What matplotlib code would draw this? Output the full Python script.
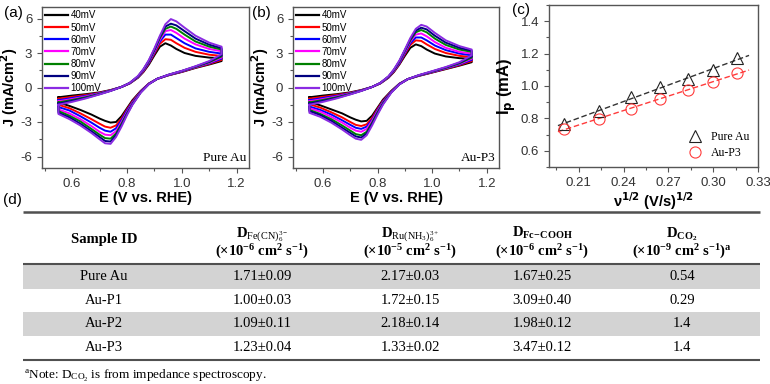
import numpy as np
import matplotlib
matplotlib.use('Agg')
import matplotlib.pyplot as plt
from matplotlib.ticker import MultipleLocator, FormatStrFormatter
from matplotlib.patches import Rectangle

plt.rcParams.update({
    'font.family': ['Liberation Sans', 'DejaVu Sans'],
    'axes.unicode_minus': False,
    'mathtext.fontset': 'custom',
    'mathtext.rm': 'Liberation Serif',
    'mathtext.bf': 'Liberation Serif:bold',
    'mathtext.it': 'Liberation Serif:italic',
})

# ---------------- data ----------------
SCAN_LABELS = ['40mV', '50mV', '60mV', '70mV', '80mV', '90mV', '100mV']

E_FWD = [0.55, 0.60, 0.65, 0.70, 0.74, 0.78, 0.81, 0.84, 0.86, 0.88, 0.90, 0.92, 0.94, 0.96, 0.98, 1.01, 1.05, 1.10, 1.145]
E_REV = [1.145, 1.10, 1.05, 1.00, 0.95, 0.91, 0.88, 0.85, 0.82, 0.80, 0.78, 0.76, 0.74, 0.72, 0.70, 0.67, 0.63, 0.59, 0.55]

J_A_FWD = [
    [-0.85, -0.70, -0.58, -0.42, -0.22, 0.05, 0.35, 0.85, 1.35, 2.00, 2.80, 3.55, 3.85, 3.65, 3.35, 3.00, 2.75, 2.60, 2.55],
    [-0.98, -0.81, -0.65, -0.46, -0.24, 0.05, 0.36, 0.88, 1.40, 2.10, 2.95, 3.80, 4.20, 4.15, 3.85, 3.45, 3.10, 2.85, 2.75],
    [-1.10, -0.91, -0.72, -0.49, -0.26, 0.05, 0.37, 0.90, 1.45, 2.15, 3.05, 4.00, 4.60, 4.60, 4.30, 3.85, 3.40, 3.10, 2.95],
    [-1.20, -1.00, -0.78, -0.52, -0.27, 0.05, 0.38, 0.93, 1.50, 2.25, 3.15, 4.15, 4.90, 5.00, 4.75, 4.25, 3.75, 3.35, 3.15],
    [-1.30, -1.08, -0.84, -0.55, -0.28, 0.05, 0.39, 0.95, 1.55, 2.30, 3.25, 4.30, 5.10, 5.30, 5.10, 4.60, 4.00, 3.55, 3.30],
    [-1.40, -1.16, -0.90, -0.58, -0.29, 0.05, 0.40, 0.97, 1.58, 2.35, 3.32, 4.40, 5.30, 5.55, 5.40, 4.90, 4.25, 3.72, 3.42],
    [-1.50, -1.25, -0.95, -0.60, -0.30, 0.05, 0.40, 1.00, 1.60, 2.40, 3.40, 4.50, 5.50, 5.95, 5.75, 5.20, 4.50, 3.90, 3.55],
]
J_A_REV = [
    [2.30, 2.00, 1.70, 1.35, 1.05, 0.75, 0.35, -0.30, -1.10, -1.80, -2.50, -3.00, -3.05, -2.90, -2.70, -2.35, -1.95, -1.60, -1.30],
    [2.40, 2.05, 1.73, 1.37, 1.06, 0.75, 0.34, -0.33, -1.20, -1.90, -2.70, -3.30, -3.50, -3.40, -3.15, -2.75, -2.25, -1.80, -1.50],
    [2.50, 2.10, 1.76, 1.39, 1.07, 0.75, 0.33, -0.36, -1.28, -2.00, -2.85, -3.55, -3.85, -3.75, -3.50, -3.05, -2.50, -2.00, -1.70],
    [2.60, 2.15, 1.78, 1.41, 1.08, 0.75, 0.32, -0.39, -1.35, -2.15, -3.00, -3.80, -4.15, -4.10, -3.85, -3.35, -2.75, -2.25, -1.90],
    [2.70, 2.20, 1.80, 1.43, 1.09, 0.75, 0.31, -0.41, -1.42, -2.25, -3.15, -4.00, -4.45, -4.40, -4.10, -3.60, -2.95, -2.45, -2.05],
    [2.80, 2.25, 1.83, 1.44, 1.10, 0.75, 0.30, -0.43, -1.46, -2.32, -3.28, -4.15, -4.70, -4.65, -4.30, -3.80, -3.15, -2.60, -2.20],
    [2.90, 2.30, 1.85, 1.45, 1.10, 0.75, 0.30, -0.45, -1.50, -2.40, -3.40, -4.30, -4.90, -4.85, -4.50, -3.95, -3.30, -2.75, -2.30],
]
J_B_FWD = [
    [-0.85, -0.70, -0.58, -0.42, -0.22, 0.05, 0.35, 0.85, 1.35, 2.00, 2.75, 3.45, 3.75, 3.60, 3.30, 2.95, 2.70, 2.55, 2.50],
    [-0.98, -0.81, -0.65, -0.46, -0.24, 0.05, 0.36, 0.88, 1.40, 2.05, 2.90, 3.70, 4.10, 4.05, 3.75, 3.35, 3.00, 2.75, 2.65],
    [-1.10, -0.91, -0.72, -0.49, -0.26, 0.05, 0.37, 0.90, 1.45, 2.10, 3.00, 3.85, 4.35, 4.35, 4.10, 3.65, 3.25, 2.95, 2.80],
    [-1.20, -1.00, -0.78, -0.52, -0.27, 0.05, 0.38, 0.92, 1.48, 2.20, 3.10, 4.00, 4.60, 4.70, 4.45, 3.95, 3.45, 3.10, 2.95],
    [-1.30, -1.08, -0.84, -0.55, -0.28, 0.05, 0.39, 0.94, 1.52, 2.25, 3.20, 4.10, 4.80, 5.00, 4.80, 4.25, 3.70, 3.30, 3.10],
    [-1.40, -1.16, -0.90, -0.58, -0.29, 0.05, 0.40, 0.96, 1.55, 2.30, 3.25, 4.20, 4.95, 5.20, 5.05, 4.50, 3.90, 3.45, 3.20],
    [-1.50, -1.25, -0.95, -0.60, -0.30, 0.05, 0.40, 0.98, 1.58, 2.35, 3.30, 4.30, 5.10, 5.45, 5.30, 4.75, 4.10, 3.60, 3.30],
]
J_B_REV = [
    [2.20, 1.90, 1.60, 1.30, 1.00, 0.72, 0.33, -0.30, -1.05, -1.75, -2.45, -2.90, -2.95, -2.80, -2.60, -2.25, -1.90, -1.55, -1.25],
    [2.30, 1.95, 1.63, 1.32, 1.02, 0.72, 0.32, -0.33, -1.15, -1.85, -2.65, -3.20, -3.35, -3.25, -3.00, -2.60, -2.15, -1.75, -1.45],
    [2.40, 2.00, 1.66, 1.34, 1.03, 0.72, 0.31, -0.36, -1.22, -1.95, -2.80, -3.40, -3.60, -3.50, -3.25, -2.85, -2.35, -1.95, -1.65],
    [2.50, 2.05, 1.69, 1.36, 1.04, 0.72, 0.30, -0.39, -1.30, -2.05, -2.90, -3.60, -3.85, -3.75, -3.50, -3.05, -2.55, -2.10, -1.80],
    [2.60, 2.10, 1.72, 1.38, 1.05, 0.72, 0.29, -0.41, -1.36, -2.15, -3.05, -3.85, -4.15, -4.05, -3.75, -3.30, -2.75, -2.30, -1.95],
    [2.70, 2.15, 1.75, 1.40, 1.06, 0.72, 0.28, -0.43, -1.42, -2.25, -3.15, -4.00, -4.35, -4.25, -3.95, -3.50, -2.90, -2.40, -2.05],
    [2.80, 2.20, 1.78, 1.42, 1.07, 0.72, 0.27, -0.45, -1.48, -2.35, -3.30, -4.15, -4.55, -4.45, -4.15, -3.65, -3.05, -2.55, -2.20],
]

SQRT_V = [0.2000, 0.2236, 0.2449, 0.2646, 0.2828, 0.3000, 0.3162]
IP_PURE_AU = [0.766, 0.848, 0.930, 0.991, 1.042, 1.098, 1.171]
IP_AU_P3 = [0.736, 0.797, 0.858, 0.920, 0.977, 1.026, 1.079]

SAMPLE_IDS = ['Pure Au', 'Au-P1', 'Au-P2', 'Au-P3']
D_FE = ['1.71±0.09', '1.00±0.03', '1.09±0.11', '1.23±0.04']
D_RU = ['2.17±0.03', '1.72±0.15', '2.18±0.14', '1.33±0.02']
D_FC = ['1.67±0.25', '3.09±0.40', '1.98±0.12', '3.47±0.12']
D_CO2 = ['0.54', '0.29', '1.4', '1.4']

# ---------------- styling ----------------
COLORS = ['black', 'red', 'blue', 'magenta', 'green', 'navy', '#8a2be2']
SPINE = '#555555'
TICKC = '#333333'

W, H = 770, 384
fig = plt.figure(figsize=(W / 100, H / 100), dpi=100)


def px_axes(l, t, r, b):
    return fig.add_axes([l / W, 1 - b / H, (r - l) / W, (b - t) / H])


def style_axes(ax):
    for s in ['top', 'right', 'left', 'bottom']:
        ax.spines[s].set_color(SPINE)
        ax.spines[s].set_linewidth(1.0)
    ax.tick_params(which='both', direction='out', top=False, right=False,
                   colors=SPINE, labelcolor=TICKC, labelsize=9.5)
    ax.tick_params(which='major', length=3.5, width=0.8)
    ax.tick_params(which='minor', length=2, width=0.8)


def cv_panel(ax, jf, jr, tag):
    for lab, col, f, r in zip(SCAN_LABELS, COLORS, jf, jr):
        ax.plot(E_FWD + E_REV + [E_FWD[0]], f + r + [f[0]], color=col, lw=1.4, label=lab)
    ax.set_xlim(0.49, 1.245)
    ax.set_ylim(-7, 7)
    ax.xaxis.set_major_locator(MultipleLocator(0.2))
    ax.xaxis.set_minor_locator(MultipleLocator(0.1))
    ax.xaxis.set_major_formatter(FormatStrFormatter('%.1f'))
    ax.yaxis.set_major_locator(MultipleLocator(3))
    ax.yaxis.set_minor_locator(MultipleLocator(1.5))
    style_axes(ax)
    ax.set_xlabel('E (V vs. RHE)', fontsize=10.5, fontweight='bold', labelpad=1)
    ax.set_ylabel('J (mA/cm$^{\\mathbf{2}}$)', fontsize=10.5, fontweight='bold',
                  math_fontfamily='dejavusans', labelpad=0)
    leg = ax.legend(loc='upper left', fontsize=7, frameon=False, handlelength=2.3,
                    handletextpad=0.3, labelspacing=0.22, borderaxespad=0.15, borderpad=0.2)
    for ln in leg.get_lines():
        ln.set_linewidth(1.6)
    ax.text(0.985, 0.025, tag, transform=ax.transAxes, ha='right', va='bottom',
            fontfamily='Liberation Serif', fontsize=9.5)


ax_a = px_axes(42, 7, 249, 168)
cv_panel(ax_a, J_A_FWD, J_A_REV, 'Pure Au')
ax_b = px_axes(293, 7, 499, 168)
cv_panel(ax_b, J_B_FWD, J_B_REV, 'Au-P3')

# panel c
ax_c = px_axes(549, 5, 758, 167)
xx = np.array([0.196, 0.324])
pa = np.polyfit(SQRT_V, IP_PURE_AU, 1)
pb = np.polyfit(SQRT_V, IP_AU_P3, 1)
ax_c.plot(xx, np.polyval(pa, xx), '--', color='#333333', lw=1.0, dashes=(4, 2))
ax_c.plot(xx, np.polyval(pb, xx), '--', color='#ff3b3b', lw=1.0, dashes=(4, 2))
ax_c.plot(SQRT_V, IP_PURE_AU, '^', mfc='none', mec='#222222', ms=9, mew=0.8, label='Pure Au')
ax_c.plot(SQRT_V, IP_AU_P3, 'o', mfc='none', mec='#ff3b3b', ms=8, mew=0.8, label='Au-P3')
ax_c.set_xlim(0.19, 0.33)
ax_c.set_ylim(0.5, 1.5)
ax_c.xaxis.set_major_locator(MultipleLocator(0.03))
ax_c.xaxis.set_minor_locator(MultipleLocator(0.015))
ax_c.xaxis.set_major_formatter(FormatStrFormatter('%.2f'))
ax_c.yaxis.set_major_locator(MultipleLocator(0.2))
ax_c.yaxis.set_minor_locator(MultipleLocator(0.1))
ax_c.yaxis.set_major_formatter(FormatStrFormatter('%.1f'))
style_axes(ax_c)
ax_c.set_xlabel('ν$^{\\mathbf{1/2}}$ (V/s)$^{\\mathbf{1/2}}$', fontsize=10.5, fontweight='bold',
                math_fontfamily='dejavusans', labelpad=1)
ax_c.set_ylabel('I$_{\\mathbf{p}}$ (mA)', fontsize=12, fontweight='bold',
                math_fontfamily='dejavusans', labelpad=2)
ax_c.legend(loc='lower right', frameon=False, prop={'family': 'Liberation Serif', 'size': 8.5},
            handletextpad=0.4, labelspacing=0.3, borderaxespad=0.3)

# panel labels
for x, y, s in [(4, 13, '(a)'), (252, 13, '(b)'), (512, 10, '(c)'), (3, 200, '(d)')]:
    fig.text(x / W, 1 - y / H, s, fontsize=11, ha='left', va='center')

# ---------------- table ----------------
tx = fig.add_axes([0, 0, 1, 1], zorder=-1)
tx.set_xlim(0, W)
tx.set_ylim(H, 0)
tx.axis('off')
TL, TR = 23, 760
row_top = 265
row_h = 23.5
for i in range(len(SAMPLE_IDS)):
    if i % 2 == 0:
        tx.add_patch(Rectangle((TL, row_top + i * row_h), TR - TL, row_h, color='#d3d3d3', lw=0))
tx.plot([TL, TR], [212, 212], color='#505050', lw=1.8, solid_capstyle='butt')
tx.plot([TL, TR], [264, 264], color='#505050', lw=1.5, solid_capstyle='butt')
tx.plot([TL, TR], [360, 360], color='#505050', lw=1.5, solid_capstyle='butt')

col_x = [104, 262, 410, 542, 682]
serif = dict(fontfamily='Liberation Serif', fontsize=10.5, ha='center')
tx.text(col_x[0], 243, 'Sample ID', va='baseline', fontweight='bold', **serif)
heads1 = [r'$\mathbf{D}_{\mathrm{Fe(CN)}_{6}^{3-}}$',
          r'$\mathbf{D}_{\mathrm{Ru(NH}_{3}\mathrm{)}_{6}^{3+}}$',
          r'$\mathbf{D}_{\mathbf{Fc\!-\!COOH}}$',
          r'$\mathbf{D}_{\mathbf{CO}_{\mathbf{2}}}$']
heads2 = [r'$\mathbf{(\times10^{-6}\ cm^{2}\ s^{-1})}$',
          r'$\mathbf{(\times10^{-5}\ cm^{2}\ s^{-1})}$',
          r'$\mathbf{(\times10^{-6}\ cm^{2}\ s^{-1})}$',
          r'$\mathbf{(\times10^{-9}\ cm^{2}\ s^{-1})^{a}}$']
for x, h1, h2 in zip(col_x[1:], heads1, heads2):
    tx.text(x, 237, h1, va='baseline', **serif)
    tx.text(x, 256, h2, va='baseline', **serif)

for i, row in enumerate(zip(SAMPLE_IDS, D_FE, D_RU, D_FC, D_CO2)):
    yc = row_top + (i + 0.5) * row_h
    for x, s in zip(col_x, row):
        tx.text(x, yc, s, va='center', **serif)

tx.text(TL + 1, 379, r'$^{\mathrm{a}}$Note: D$_{\mathrm{CO}_{2}}$ is from impedance spectroscopy.',
        fontfamily='Liberation Serif', fontsize=9.5, ha='left', va='baseline')

fig.savefig('out.png', dpi=100)
